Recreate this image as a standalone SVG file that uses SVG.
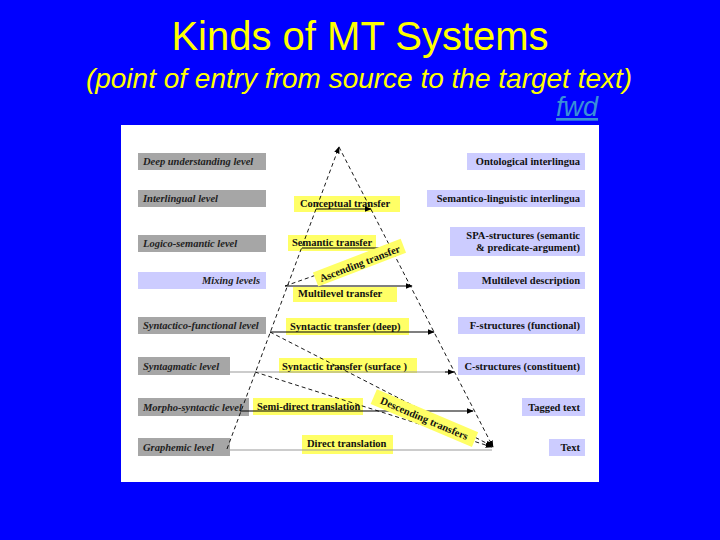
<svg xmlns="http://www.w3.org/2000/svg" width="720" height="540" viewBox="0 0 720 540">
<style>
.title{font-family:"Liberation Sans",Arial,sans-serif;fill:#ffff00}
.lv{fill:#a6a6a6}
.lav{fill:#ccccff}
.yel{fill:#ffff66}
.lt{font-family:"Liberation Serif","Times New Roman",serif;font-size:10.5px;font-weight:bold;font-style:italic;fill:#222}
.rt{font-family:"Liberation Serif","Times New Roman",serif;font-size:10.5px;font-weight:bold;fill:#111;text-anchor:end}
.yt{font-family:"Liberation Serif","Times New Roman",serif;font-size:10.5px;font-weight:bold;fill:#111}
.dash{stroke:#000;stroke-width:0.9;stroke-dasharray:4 3;fill:none}
.solid{stroke:#000;stroke-width:1.1;fill:none}
.gray{stroke:#999;stroke-width:1;fill:none}
</style>
<defs>
<marker id="ah" viewBox="0 0 10 10" refX="9" refY="5" markerWidth="7" markerHeight="7" orient="auto" markerUnits="userSpaceOnUse">
<path d="M0,1 L10,5 L0,9 Z" fill="#000"/>
</marker>
</defs>
<rect x="0" y="0" width="720" height="540" fill="#0000ff"/>
<text class="title" x="360" y="50" font-size="40" text-anchor="middle">Kinds of MT Systems</text>
<text class="title" x="359" y="88" font-size="28" font-style="italic" text-anchor="middle">(point of entry from source to the target text)</text>
<text x="556" y="116" font-family="Liberation Sans,Arial,sans-serif" font-size="27" font-style="italic" fill="#3a90d6" text-decoration="underline">fwd</text>
<rect x="121" y="125" width="478" height="357" fill="#ffffff"/>

<g id="left-levels">
<g id="deep-understanding"><rect class="lv" x="138" y="153" width="128" height="17"/><text class="lt" x="143" y="165">Deep understanding level</text></g>
<g id="interlingual"><rect class="lv" x="138" y="190" width="128" height="17"/><text class="lt" x="143" y="202">Interlingual level</text></g>
<g id="logico-semantic"><rect class="lv" x="138" y="235" width="128" height="17"/><text class="lt" x="143" y="247">Logico-semantic level</text></g>
<g id="mixing"><rect class="lav" x="138" y="272" width="128" height="17"/><text class="lt" x="260" y="284" text-anchor="end" font-weight="normal">Mixing levels</text></g>
<g id="syntactico-functional"><rect class="lv" x="138" y="317" width="128" height="17"/><text class="lt" x="143" y="329">Syntactico-functional level</text></g>
<g id="syntagmatic"><rect class="lv" x="138" y="357" width="92" height="18"/><text class="lt" x="143" y="370">Syntagmatic level</text></g>
<g id="morpho-syntactic"><rect class="lv" x="138" y="398" width="111" height="18"/><text class="lt" x="143" y="411">Morpho-syntactic level</text></g>
<g id="graphemic"><rect class="lv" x="138" y="438" width="92" height="18"/><text class="lt" x="143" y="451">Graphemic level</text></g>
</g>

<g id="right-levels">
<g id="ontological"><rect class="lav" x="467" y="153" width="118" height="17"/><text class="rt" x="580" y="165">Ontological interlingua</text></g>
<g id="semantico-linguistic"><rect class="lav" x="427" y="190" width="158" height="17"/><text class="rt" x="580" y="202">Semantico-linguistic interlingua</text></g>
<g id="spa"><rect class="lav" x="450" y="227" width="135" height="29"/><text class="rt" x="580" y="239">SPA-structures (semantic</text><text class="rt" x="580" y="251">&amp; predicate-argument)</text></g>
<g id="multilevel-desc"><rect class="lav" x="458" y="272" width="127" height="17"/><text class="rt" x="580" y="284">Multilevel description</text></g>
<g id="f-structures"><rect class="lav" x="458" y="317" width="127" height="17"/><text class="rt" x="580" y="329">F-structures (functional)</text></g>
<g id="c-structures"><rect class="lav" x="458" y="357" width="127" height="18"/><text class="rt" x="580" y="370">C-structures (constituent)</text></g>
<g id="tagged-text"><rect class="lav" x="522" y="398" width="63" height="18"/><text class="rt" x="580" y="411">Tagged text</text></g>
<g id="text"><rect class="lav" x="549" y="439" width="36" height="17"/><text class="rt" x="580" y="451">Text</text></g>
</g>

<g id="transfer-boxes">
<rect class="yel" x="294" y="196" width="106" height="16"/>
<rect class="yel" x="288" y="235" width="88" height="16"/>
<rect class="yel" x="293" y="287" width="104" height="15"/>
<rect class="yel" x="286" y="318" width="123" height="17"/>
<rect class="yel" x="279" y="358" width="138" height="15"/>
<rect class="yel" x="253" y="398" width="110" height="17"/>
<rect class="yel" x="302" y="435" width="91" height="19"/>
</g>

<g id="connectors">
<line class="dash" x1="227" y1="449" x2="339" y2="147" marker-end="url(#ah)"/>
<line class="dash" x1="339" y1="147" x2="493" y2="447" marker-end="url(#ah)"/>
<line class="solid" x1="316" y1="209" x2="371" y2="209" marker-end="url(#ah)"/>
<line class="solid" x1="302" y1="248" x2="390" y2="248" marker-end="url(#ah)"/>
<line class="dash" x1="285" y1="286" x2="390" y2="249" marker-end="url(#ah)"/>
<line class="solid" x1="285" y1="286" x2="412" y2="286" marker-end="url(#ah)"/>
<line class="solid" x1="270" y1="332" x2="434" y2="332" marker-end="url(#ah)"/>
<line class="gray" x1="230" y1="372" x2="453" y2="372"/>
<line x1="445" y1="372" x2="454" y2="372" stroke="#000" stroke-width="1" marker-end="url(#ah)"/>
<line class="solid" x1="240" y1="411" x2="473" y2="411" marker-end="url(#ah)"/>
<line class="gray" x1="230" y1="450" x2="492" y2="450"/>
<line class="dash" x1="270" y1="332" x2="492" y2="446" marker-end="url(#ah)"/>
<line class="dash" x1="255" y1="372" x2="492" y2="447" marker-end="url(#ah)"/>
</g>

<g id="ascending-transfer" transform="translate(360,264) rotate(-21)">
<rect class="yel" x="-47" y="-9" width="94" height="15"/>
<text class="yt" x="0" y="3" text-anchor="middle">Ascending transfer</text>
</g>
<g id="descending-transfers" transform="translate(424,419) rotate(23)">
<rect class="yel" x="-55" y="-9" width="110" height="16"/>
<text class="yt" x="0" y="3" text-anchor="middle">Descending transfers</text>
</g>

<g id="transfer-labels">
<text class="yt" x="300" y="207">Conceptual transfer</text>
<text class="yt" x="292" y="246">Semantic transfer</text>
<text class="yt" x="298" y="297">Multilevel transfer</text>
<text class="yt" x="290" y="330">Syntactic transfer (deep)</text>
<text class="yt" x="282" y="370">Syntactic transfer (surface )</text>
<text class="yt" x="257" y="410">Semi-direct translation</text>
<text class="yt" x="307" y="447">Direct translation</text>
</g>
</svg>
